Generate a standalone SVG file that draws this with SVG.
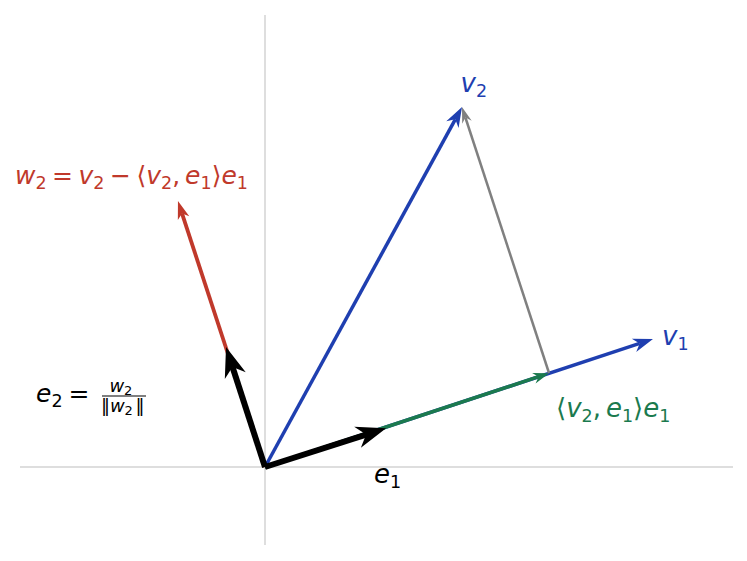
<svg xmlns="http://www.w3.org/2000/svg" width="747" height="561" viewBox="0 0 747 561">
<style>
.ax{stroke:#d3d3d3;stroke-width:1.5;fill:none}
.t{font-family:"DejaVu Sans",sans-serif;font-size:25px}
.g{font-size:26px}
.i{font-style:italic}
.s{font-size:17.5px;font-style:normal}
.blue{stroke:#1f3fb0;fill:none;stroke-width:3.5}
.green{stroke:#1b7a4e;fill:none;stroke-width:3.5}
.gray{stroke:#808080;fill:none;stroke-width:2.5}
.red{stroke:#c0392b;fill:none;stroke-width:3.8}
.blk{stroke:#000;fill:none;stroke-width:6}
.f{font-family:"DejaVu Sans",sans-serif;font-size:18px}
.fs{font-size:13px;font-style:normal}
</style>
<defs>
<marker id="hb" markerUnits="userSpaceOnUse" viewBox="-21 -8 22 16" refX="-14" refY="0" markerWidth="22" markerHeight="16" orient="auto" overflow="visible"><path d="M0,0 L-20,-7 L-14,0 L-20,7 Z" fill="#1f3fb0"/></marker>
<marker id="hg" markerUnits="userSpaceOnUse" viewBox="-17 -6 18 12" refX="-11" refY="0" markerWidth="18" markerHeight="12" orient="auto" overflow="visible"><path d="M0,0 L-16,-5.5 L-11,0 L-16,5.5 Z" fill="#1b7a4e"/></marker>
<marker id="hy" markerUnits="userSpaceOnUse" viewBox="-17 -6 18 12" refX="-11" refY="0" markerWidth="18" markerHeight="12" orient="auto" overflow="visible"><path d="M0,0 L-16,-5 L-11,0 L-16,5 Z" fill="#808080"/></marker>
<marker id="hr" markerUnits="userSpaceOnUse" viewBox="-19 -7 20 14" refX="-13" refY="0" markerWidth="20" markerHeight="14" orient="auto" overflow="visible"><path d="M0,0 L-18,-6 L-13,0 L-18,6 Z" fill="#c0392b"/></marker>
<marker id="hk" markerUnits="userSpaceOnUse" viewBox="-31 -12 32 24" refX="-21" refY="0" markerWidth="32" markerHeight="24" orient="auto" overflow="visible"><path d="M0,0 L-30,-11 L-21,0 L-30,11 Z" fill="#000"/></marker>
</defs>
<g id="axes">
<line class="ax" x1="265" y1="15" x2="265" y2="545"/>
<line class="ax" x1="20" y1="467" x2="733" y2="467"/>
</g>
<g id="connectors">
<line id="v1" class="blue" x1="265" y1="467" x2="639.7" y2="343.4" marker-end="url(#hb)"/>
<line id="proj" class="green" x1="265" y1="467" x2="538.6" y2="376.7" marker-end="url(#hg)"/>
<line id="perp" class="gray" x1="549" y1="373" x2="465.4" y2="117.5" marker-end="url(#hy)"/>
<line id="v2" class="blue" x1="265" y1="467" x2="455.3" y2="119.3" marker-end="url(#hb)"/>
<line id="w2" class="red" x1="265" y1="467" x2="182" y2="213.4" marker-end="url(#hr)"/>
<line id="e1" class="blk" x1="265" y1="467" x2="366.1" y2="434.6" marker-end="url(#hk)"/>
<line id="e2" class="blk" x1="265" y1="467" x2="232.5" y2="367" marker-end="url(#hk)"/>
</g>
<g id="label-v2"><text class="t g" x="460.5" y="91.5" fill="#1f3fb0"><tspan class="i">v</tspan><tspan class="s" dy="5">2</tspan></text></g>
<g id="label-v1"><text class="t g" x="662" y="345" fill="#1f3fb0"><tspan class="i">v</tspan><tspan class="s" dy="4.5">1</tspan></text></g>
<g id="label-proj"><text class="t g" x="556" y="417" fill="#1b7a4e">⟨<tspan class="i">v</tspan><tspan class="s" dy="5">2</tspan><tspan dy="-5">,</tspan><tspan class="i" dx="5">e</tspan><tspan class="s" dy="5">1</tspan><tspan dy="-5">⟩</tspan><tspan class="i">e</tspan><tspan class="s" dy="5">1</tspan></text></g>
<g id="label-e1"><text class="t g" x="374" y="483" fill="#000"><tspan class="i">e</tspan><tspan class="s" dy="5">1</tspan></text></g>
<g id="label-w2"><text class="t" x="15" y="184" fill="#c0392b"><tspan class="i">w</tspan><tspan class="s" dy="5">2</tspan><tspan dx="5.5" dy="-5">=</tspan><tspan class="i" dx="5.5">v</tspan><tspan class="s" dy="5">2</tspan><tspan dx="5.5" dy="-5">−</tspan><tspan dx="5.5">⟨</tspan><tspan class="i">v</tspan><tspan class="s" dy="5">2</tspan><tspan dy="-5">,</tspan><tspan class="i" dx="5">e</tspan><tspan class="s" dy="5">1</tspan><tspan dy="-5">⟩</tspan><tspan class="i">e</tspan><tspan class="s" dy="5">1</tspan></text></g>
<g id="label-e2">
<text class="t" x="36" y="402" fill="#000"><tspan class="i">e</tspan><tspan class="s" dy="5">2</tspan><tspan dx="6" dy="-5">=</tspan></text>
<text class="f" y="391.5"><tspan class="i" x="109.5">w</tspan><tspan class="fs" x="124" dy="3">2</tspan></text>
<line x1="102" y1="396" x2="146" y2="396" stroke="#000" stroke-width="1.2"/>
<text class="f" y="412"><tspan x="101">‖</tspan><tspan class="i" x="110">w</tspan><tspan class="fs" x="124.5" dy="3">2</tspan><tspan x="135.5" dy="-3">‖</tspan></text>
</g>
</svg>
